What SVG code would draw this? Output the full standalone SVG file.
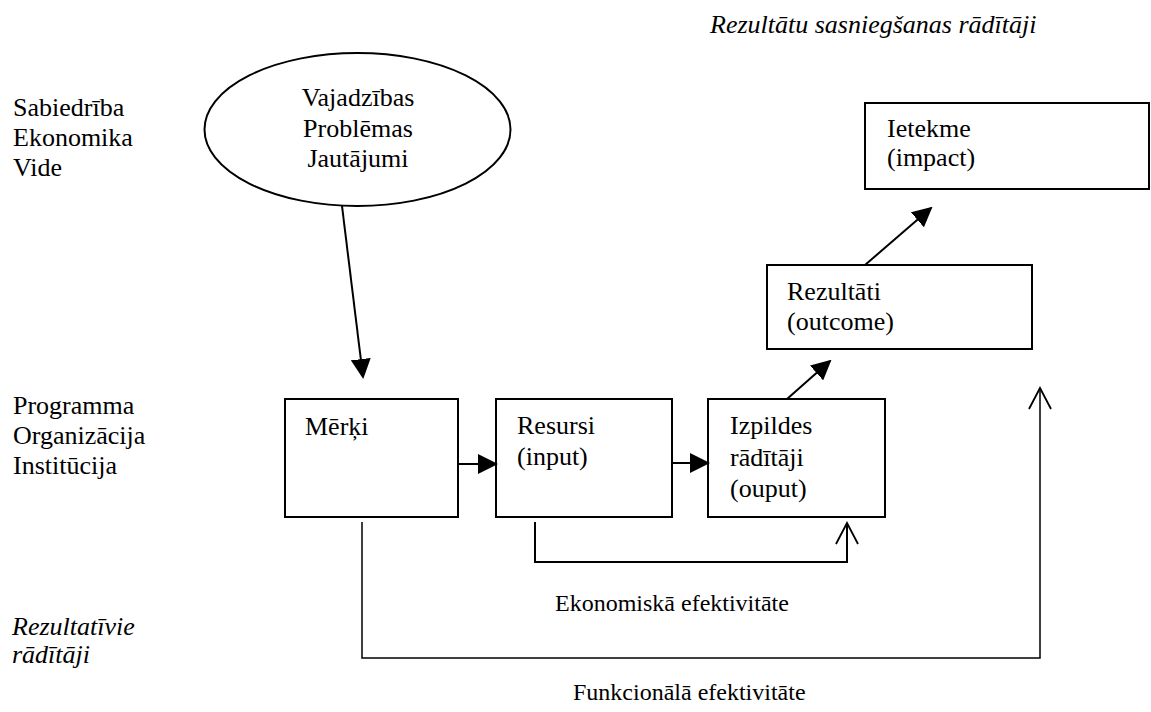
<svg xmlns="http://www.w3.org/2000/svg" width="1151" height="712" viewBox="0 0 1151 712">
<style>
text{font-family:'Liberation Serif','DejaVu Serif',serif;font-size:26px;fill:#000}
.it{font-style:italic}
.sm{font-size:24px}
.box{fill:#fff;stroke:#000;stroke-width:2}
.ln{fill:none;stroke:#000;stroke-width:2}
.thin{fill:none;stroke:#000;stroke-width:1.5}
</style>
<defs>
<marker id="fa" viewBox="0 0 20 20" refX="18" refY="10" markerWidth="20" markerHeight="20" markerUnits="userSpaceOnUse" orient="auto"><path d="M0,0 L20,10 L0,20 z" fill="#000"/></marker>
<marker id="oa" viewBox="0 0 24 26" refX="22" refY="13" markerWidth="24" markerHeight="26" markerUnits="userSpaceOnUse" orient="auto"><path d="M1,2 L22,13 L1,24" fill="none" stroke="#000" stroke-width="1.8"/></marker>
</defs>
<g id="labels">
<text class="it" x="710" y="33">Rezultātu sasniegšanas rādītāji</text>
<text x="13" y="116">Sabiedrība</text>
<text x="13" y="146">Ekonomika</text>
<text x="13" y="176">Vide</text>
<text x="13" y="414">Programma</text>
<text x="13" y="444">Organizācija</text>
<text x="13" y="474">Institūcija</text>
<text class="it" x="12" y="635">Rezultatīvie</text>
<text class="it" x="12" y="663">rādītāji</text>
<text class="sm" x="555" y="611">Ekonomiskā efektivitāte</text>
<text class="sm" x="573" y="700">Funkcionālā efektivitāte</text>
</g>
<g id="needs">
<ellipse class="box" cx="357.5" cy="129.5" rx="153" ry="76.5"/>
<text x="358" y="106" text-anchor="middle">Vajadzības</text>
<text x="358" y="137" text-anchor="middle">Problēmas</text>
<text x="358" y="167" text-anchor="middle">Jautājumi</text>
</g>
<g id="merki">
<rect class="box" x="285" y="399" width="173" height="118"/>
<text x="305" y="435">Mērķi</text>
</g>
<g id="resursi">
<rect class="box" x="496" y="399" width="176" height="118"/>
<text x="517" y="434">Resursi</text>
<text x="517" y="465">(input)</text>
</g>
<g id="izpilde">
<rect class="box" x="708" y="399" width="177" height="118"/>
<text x="730" y="434">Izpildes</text>
<text x="730" y="466">rādītāji</text>
<text x="730" y="497">(ouput)</text>
</g>
<g id="rezultati">
<rect class="box" x="767" y="265" width="265" height="84"/>
<text x="787" y="300">Rezultāti</text>
<text x="787" y="330">(outcome)</text>
</g>
<g id="ietekme">
<rect class="box" x="865" y="103" width="284" height="86"/>
<text x="887" y="137">Ietekme</text>
<text x="887" y="166">(impact)</text>
</g>
<g id="connectors">
<path class="ln" d="M342,206 L363,377" marker-end="url(#fa)"/>
<path class="ln" d="M458,464 H496" marker-end="url(#fa)"/>
<path class="ln" d="M672,463 H708" marker-end="url(#fa)"/>
<path class="ln" d="M787,399 L830,361" marker-end="url(#fa)"/>
<path class="ln" d="M865,265 L931,208" marker-end="url(#fa)"/>
<path class="ln" d="M535,522 V562 H847 V523" marker-end="url(#oa)"/>
<path class="thin" d="M362,522 V658 H1040 V388" marker-end="url(#oa)"/>
</g>
</svg>
